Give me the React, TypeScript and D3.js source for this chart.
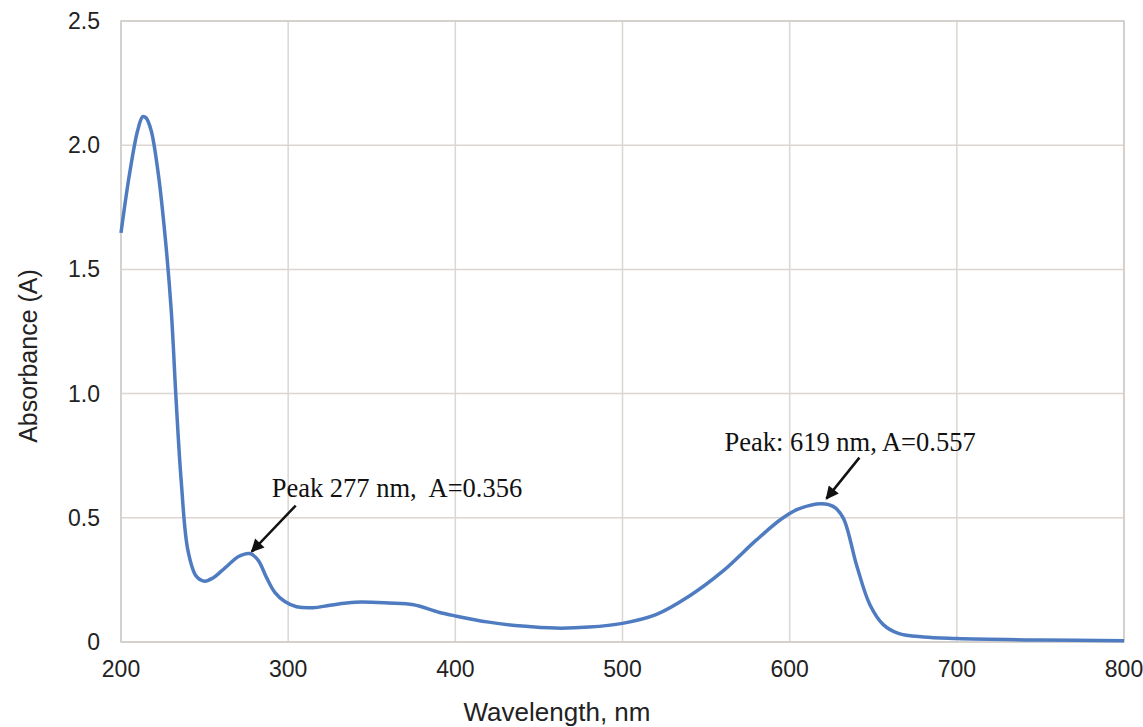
import React from "react";
import * as d3 from "d3";

const wavelengths = [200, 205, 210, 213, 215, 218, 222, 226, 230, 233, 236, 240, 245, 250, 255, 260, 265, 270, 277, 282, 287, 292, 298, 305, 315, 325, 340, 360, 375, 390, 400, 420, 440, 460, 480, 500, 520, 540, 560, 580, 595, 605, 619, 626, 632, 640, 648, 656, 665, 680, 700, 750, 800];
const absorbance = [1.647, 1.88, 2.06, 2.115, 2.11, 2.06, 1.9, 1.66, 1.34, 0.97, 0.65, 0.37, 0.265, 0.245, 0.258, 0.285, 0.315, 0.343, 0.356, 0.33, 0.26, 0.2, 0.163, 0.142, 0.138, 0.148, 0.16, 0.157, 0.15, 0.12, 0.105, 0.08, 0.064, 0.056, 0.06, 0.075, 0.11, 0.185, 0.285, 0.41, 0.495, 0.535, 0.557, 0.546, 0.5, 0.31, 0.15, 0.07, 0.035, 0.02, 0.014, 0.008, 0.005];
const xTicks = [200, 300, 400, 500, 600, 700, 800];
const yTicks = [0, 0.5, 1.0, 1.5, 2.0, 2.5];
const annotations = [
  { label: "Peak 277 nm,  A=0.356", wl: 277, a: 0.356 },
  { label: "Peak: 619 nm, A=0.557", wl: 619, a: 0.557 },
];

export default function App() {
  const W = 1143, H = 727;
  const left = 121, right = 1124, top = 21, bottom = 642;
  const x = d3.scaleLinear().domain([200, 800]).range([left, right]);
  const y = d3.scaleLinear().domain([0, 2.5]).range([bottom, top]);
  const pts = wavelengths.map((w, i) => [w, absorbance[i]] as [number, number]);
  const line = d3.line<[number, number]>().x(d => x(d[0])).y(d => y(d[1])).curve(d3.curveCatmullRom.alpha(0.5));
  const sans = "'Liberation Sans', Arial, sans-serif";
  const serif = "'Liberation Serif', 'Times New Roman', serif";
  // arrow/label offsets in pixels relative to the annotated point
  const annOffsets = [
    { tail: [46, -48], head: [2, -2], text: [22, -57] },
    { tail: [38, -46], head: [5, -5], text: [-97, -53] },
  ];
  return (
    <svg width={W} height={H} style={{ position: "absolute", left: 0, top: 0, background: "#fff" }}>
      <defs>
        <marker id="ah" viewBox="0 0 10 10" refX="9" refY="5" markerUnits="userSpaceOnUse" markerWidth="17" markerHeight="13" orient="auto">
          <path d="M0,0 L10,5 L0,10 z" fill="#111" />
        </marker>
      </defs>
      <rect x={0} y={0} width={W} height={H} fill="#fff" />
      {xTicks.map(t => (
        <line key={"gx" + t} x1={x(t)} x2={x(t)} y1={top} y2={bottom} stroke="#dcd6d2" strokeWidth={1.5} />
      ))}
      {yTicks.map(t => (
        <line key={"gy" + t} x1={left} x2={right} y1={y(t)} y2={y(t)} stroke="#dcd6d2" strokeWidth={1.5} />
      ))}
      <rect x={left} y={top} width={right - left} height={bottom - top} fill="none" stroke="#d0cbc7" strokeWidth={1.5} />
      <path d={line(pts) || ""} fill="none" stroke="#4f7cc1" strokeWidth={3.5} strokeLinejoin="round" />
      {yTicks.map(t => (
        <text key={"ty" + t} x={100} y={y(t) + 8} textAnchor="end" fontFamily={sans} fontSize={23} fill="#222">
          {t === 0 ? "0" : t.toFixed(1)}
        </text>
      ))}
      {xTicks.map(t => (
        <text key={"tx" + t} x={x(t)} y={677} textAnchor="middle" fontFamily={sans} fontSize={23} fill="#222">
          {t}
        </text>
      ))}
      <text x={557} y={721} textAnchor="middle" fontFamily={sans} fontSize={26} fill="#222">Wavelength, nm</text>
      <text transform={`translate(37, 356) rotate(-90)`} textAnchor="middle" fontFamily={sans} fontSize={25} fill="#222">Absorbance (A)</text>
      {annotations.map((a, i) => {
        const px = x(a.wl), py = y(a.a);
        const o = annOffsets[i];
        return (
          <g key={a.label}>
            <line x1={px + o.tail[0]} y1={py + o.tail[1]} x2={px + o.head[0]} y2={py + o.head[1]} stroke="#111" strokeWidth={2.5} markerEnd="url(#ah)" />
            <text x={px + o.text[0]} y={py + o.text[1]} fontFamily={serif} fontSize={26.5} fill="#111" style={{ whiteSpace: "pre" }}>{a.label}</text>
          </g>
        );
      })}
    </svg>
  );
}
